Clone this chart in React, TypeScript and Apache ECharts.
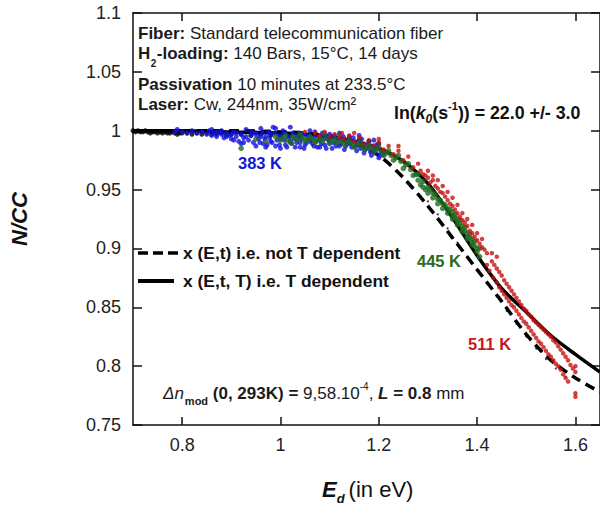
import React, { useEffect, useRef } from "react";
import * as echarts from "echarts";

// ---------- data ----------
const xTicks = [0.8, 1.0, 1.2, 1.4, 1.6];

// model curves (E_d in eV -> N/CC)
const modelE = [0.7, 0.8, 0.9, 1.0, 1.05, 1.1, 1.15, 1.2, 1.25, 1.3, 1.35, 1.4, 1.45, 1.5, 1.55, 1.6, 1.65];
const solidTdep = [1.0, 1.0, 0.999, 0.998, 0.997, 0.995, 0.991, 0.985, 0.974, 0.955, 0.926, 0.894, 0.866, 0.846, 0.826, 0.81, 0.795];
const dashedNotTdep = [1.0, 1.0, 1.0, 0.999, 0.998, 0.995, 0.989, 0.979, 0.96, 0.936, 0.909, 0.882, 0.855, 0.827, 0.805, 0.79, 0.778];

// measured points
const blackBand = [
  [0.7, 1.0], [0.705, 0.999], [0.71, 1.0], [0.715, 0.999], [0.72, 0.999], [0.725, 1.0], [0.73, 0.999], [0.735, 0.998],
  [0.74, 0.999], [0.745, 0.999], [0.75, 0.998], [0.755, 0.999], [0.76, 0.998], [0.765, 0.999], [0.77, 0.998], [0.775, 0.998],
  [0.78, 0.999], [0.785, 0.998], [0.79, 0.997], [0.795, 0.998], [0.8, 0.998], [0.81, 0.998], [0.82, 0.997], [0.83, 0.998],
  [0.84, 0.997], [0.85, 0.998], [0.86, 0.997], [0.87, 0.997], [0.88, 0.998], [0.89, 0.997], [0.9, 0.997], [0.92, 0.997],
  [0.94, 0.996], [0.96, 0.997], [0.98, 0.996], [1.0, 0.996], [1.02, 0.996], [1.04, 0.995], [1.06, 0.995], [1.08, 0.995],
  [1.1, 0.994], [1.12, 0.994], [1.14, 0.993], [1.16, 0.992], [1.18, 0.991], [1.2, 0.989],
];

const blue383 = [
  [0.785, 0.999], [0.79, 1.001], [0.8, 0.999], [0.81, 0.998], [0.82, 1.0], [0.83, 0.998], [0.84, 0.999], [0.85, 0.997],
  [0.855, 1.0], [0.86, 0.996], [0.865, 0.998], [0.87, 0.995], [0.875, 0.999], [0.88, 0.997], [0.885, 0.994], [0.89, 0.998],
  [0.895, 0.996], [0.9, 0.993], [0.905, 0.999], [0.91, 0.995], [0.915, 0.991], [0.92, 0.997], [0.925, 0.994], [0.93, 1.001],
  [0.935, 0.992], [0.94, 0.996], [0.945, 0.99], [0.95, 0.998], [0.955, 0.993], [0.96, 1.002], [0.965, 0.989], [0.97, 0.995],
  [0.975, 0.999], [0.98, 0.991], [0.985, 1.003], [0.99, 0.987], [0.995, 0.996], [1.0, 0.993], [1.005, 1.0], [1.01, 0.988],
  [1.015, 0.995], [1.02, 0.991], [1.025, 0.998], [1.03, 0.986], [1.035, 0.994], [1.04, 0.99], [1.045, 0.997], [1.05, 0.988],
  [1.055, 0.993], [1.06, 1.0], [1.065, 0.989], [1.07, 0.995], [1.075, 0.986], [1.08, 0.992], [1.085, 0.998], [1.09, 0.988],
  [1.095, 0.994], [1.1, 0.99], [1.105, 0.985], [1.11, 0.996], [1.115, 0.991], [1.12, 0.987], [1.125, 0.993], [1.13, 0.984],
  [1.135, 0.99], [1.14, 0.995], [1.145, 0.986], [1.15, 0.991], [1.155, 0.983], [1.16, 0.988], [1.165, 0.993], [1.17, 0.981],
  [1.175, 0.987], [1.18, 0.991], [1.185, 0.979], [1.19, 0.984], [1.195, 0.988], [1.2, 0.977], [1.205, 0.982], [1.21, 0.98],
  [0.86, 1.001], [0.88, 1.0], [0.9, 0.997], [0.92, 0.989], [0.94, 0.999], [0.95, 0.987], [0.96, 0.995], [0.97, 0.986],
  [0.98, 0.997], [0.99, 1.002], [1.0, 0.985], [1.01, 0.998], [1.02, 1.003], [1.03, 0.996], [1.04, 0.986], [1.05, 0.996],
  [1.06, 0.991], [1.07, 0.999], [1.08, 0.986], [1.09, 0.996], [1.1, 0.997], [1.12, 0.998], [1.14, 0.989], [1.16, 0.996],
  [1.18, 0.985], [1.19, 0.992],
  [0.952, 0.996], [0.958, 0.99], [0.963, 0.998], [0.968, 0.993], [0.973, 0.988], [0.978, 0.994], [0.983, 0.99], [0.988, 0.998],
  [0.993, 0.992], [0.998, 0.988], [1.003, 0.996], [1.008, 0.992], [1.013, 0.986], [1.018, 0.994], [1.023, 0.989], [1.028, 0.993],
  [1.033, 0.99], [1.038, 0.998], [1.043, 0.993], [1.048, 0.985], [1.053, 0.99], [1.058, 0.996], [1.063, 0.993], [1.068, 0.987],
  [1.073, 0.991], [1.078, 0.995], [1.083, 0.989], [1.088, 0.993], [1.093, 0.985], [1.098, 0.992], [1.103, 0.995], [1.108, 0.99],
  [1.113, 0.987], [1.118, 0.993], [1.123, 0.989], [1.128, 0.995], [1.133, 0.987], [1.138, 0.992], [1.143, 0.99], [1.148, 0.994],
  [1.153, 0.987], [1.158, 0.991], [1.163, 0.985], [1.168, 0.989], [1.173, 0.984], [1.178, 0.988], [1.183, 0.982], [1.188, 0.987],
  [1.193, 0.981], [1.198, 0.985], [1.203, 0.979], [1.208, 0.983], [0.87, 0.999], [0.89, 0.995], [0.91, 0.998], [0.93, 0.995],
  [0.945, 0.998], [0.925, 0.99], [0.905, 0.992],
];

const green445 = [
  [0.92, 0.985], [0.95, 0.993], [0.97, 0.991], [0.99, 0.995], [1.0, 0.992], [1.01, 0.996], [1.02, 0.99], [1.03, 0.994],
  [1.04, 0.997], [1.05, 0.991], [1.06, 0.995], [1.07, 0.99], [1.08, 0.994], [1.09, 0.997], [1.1, 0.989], [1.11, 0.993],
  [1.12, 0.996], [1.13, 0.988], [1.14, 0.992], [1.15, 0.986], [1.16, 0.99], [1.17, 0.984], [1.18, 0.988], [1.19, 0.982],
  [1.2, 0.986], [1.21, 0.979], [1.22, 0.983], [1.23, 0.975], [1.24, 0.979], [1.25, 0.968], [1.26, 0.972], [1.27, 0.962],
  [1.28, 0.958], [1.285, 0.954], [1.29, 0.957], [1.295, 0.95], [1.3, 0.947], [1.305, 0.95], [1.31, 0.943], [1.315, 0.946],
  [1.32, 0.938], [1.325, 0.941], [1.33, 0.934], [1.335, 0.937], [1.34, 0.93], [1.345, 0.933], [1.35, 0.925], [1.355, 0.929],
  [1.36, 0.92], [1.365, 0.924], [1.37, 0.914], [1.375, 0.918], [1.38, 0.908], [1.385, 0.912], [1.39, 0.903], [1.395, 0.906],
  [1.4, 0.897], [1.405, 0.9], [1.405, 0.893], [1.36, 0.925], [1.37, 0.919], [1.38, 0.913], [1.39, 0.908], [1.35, 0.931],
  [1.005, 0.994], [1.015, 0.992], [1.025, 0.995], [1.035, 0.992], [1.045, 0.994], [1.055, 0.992], [1.065, 0.993], [1.075, 0.992],
  [1.085, 0.991], [1.095, 0.993], [1.105, 0.991], [1.115, 0.99], [1.125, 0.991], [1.135, 0.99], [1.145, 0.989], [1.155, 0.988],
  [1.165, 0.987], [1.175, 0.986], [1.185, 0.985], [1.195, 0.984], [1.205, 0.982], [1.215, 0.981], [1.225, 0.979], [1.235, 0.977],
  [1.245, 0.974], [1.255, 0.971], [1.265, 0.967], [1.275, 0.963], [1.28, 0.963], [1.29, 0.952], [1.3, 0.952], [1.31, 0.947],
  [1.32, 0.942], [1.33, 0.938], [1.34, 0.934], [1.35, 0.928], [1.36, 0.923], [1.37, 0.916], [1.38, 0.91], [1.39, 0.905],
  [1.4, 0.9], [1.395, 0.902], [1.385, 0.909], [1.375, 0.915], [1.365, 0.921], [1.355, 0.926],
];

const red511 = [
  [1.05, 0.999], [1.07, 0.998], [1.08, 0.996], [1.09, 0.999], [1.1, 0.995], [1.11, 0.997], [1.12, 0.994], [1.125, 0.998],
  [1.13, 0.993], [1.14, 0.996], [1.15, 0.991], [1.16, 0.994], [1.17, 0.989], [1.18, 0.992], [1.19, 0.987], [1.2, 0.99],
  [1.21, 0.984], [1.22, 0.987], [1.23, 0.98], [1.24, 0.983], [1.25, 0.975], [1.26, 0.978], [1.27, 0.969], [1.28, 0.972],
  [1.29, 0.963], [1.3, 0.96], [1.305, 0.956], [1.31, 0.958], [1.32, 0.951], [1.325, 0.948], [1.33, 0.947], [1.34, 0.941],
  [1.345, 0.938], [1.35, 0.936], [1.36, 0.93], [1.365, 0.927], [1.37, 0.924], [1.38, 0.919], [1.385, 0.915], [1.39, 0.913],
  [1.4, 0.907], [1.405, 0.904], [1.41, 0.901], [1.42, 0.896],
  [1.3, 0.966], [1.32, 0.958], [1.34, 0.948], [1.36, 0.937], [1.38, 0.925], [1.4, 0.913], [1.43, 0.896],
  [1.285, 0.966], [1.295, 0.962], [1.315, 0.953], [1.335, 0.944], [1.355, 0.933], [1.375, 0.922], [1.395, 0.91], [1.415, 0.899],
  [1.31, 0.962], [1.33, 0.953], [1.35, 0.943], [1.37, 0.93], [1.39, 0.92], [1.41, 0.908], [1.44, 0.893], [1.2, 0.993],
  [1.24, 0.987], [1.15, 0.998],
  // upper branch
  [1.43, 0.889], [1.44, 0.883], [1.45, 0.877], [1.46, 0.87], [1.47, 0.864], [1.48, 0.858], [1.49, 0.852], [1.5, 0.847],
  [1.51, 0.842], [1.52, 0.837], [1.53, 0.833], [1.54, 0.829], [1.55, 0.825], [1.56, 0.82], [1.565, 0.817], [1.57, 0.814],
  [1.575, 0.811], [1.58, 0.808], [1.585, 0.805], [1.59, 0.801], [1.595, 0.798], [1.6, 0.795], [1.6, 0.8],
  [1.435, 0.886], [1.445, 0.88], [1.455, 0.873], [1.465, 0.867], [1.475, 0.861], [1.485, 0.855], [1.495, 0.849], [1.505, 0.844],
  [1.515, 0.839], [1.525, 0.835], [1.535, 0.831], [1.545, 0.827], [1.555, 0.822],
  // lower branch
  [1.42, 0.886], [1.425, 0.881], [1.433, 0.875], [1.44, 0.871], [1.45, 0.864], [1.46, 0.858], [1.47, 0.852], [1.48, 0.847],
  [1.49, 0.841], [1.5, 0.836], [1.51, 0.83], [1.52, 0.824], [1.53, 0.819], [1.54, 0.813], [1.55, 0.808], [1.56, 0.802],
  [1.57, 0.797], [1.575, 0.793], [1.58, 0.79], [1.585, 0.787], [1.6, 0.777], [1.6, 0.774],
  [1.445, 0.867], [1.455, 0.861], [1.465, 0.855], [1.475, 0.85], [1.485, 0.844], [1.495, 0.838], [1.505, 0.833], [1.515, 0.827],
  [1.525, 0.821], [1.535, 0.816], [1.545, 0.81], [1.555, 0.805], [1.565, 0.8],
];

const blackThin = [
  [1.3, 0.94], [1.32, 0.929], [1.34, 0.917], [1.36, 0.905], [1.38, 0.893], [1.4, 0.882], [1.42, 0.87], [1.44, 0.859],
  [1.46, 0.847], [1.48, 0.836], [1.5, 0.825], [1.52, 0.815], [1.54, 0.806], [1.56, 0.798], [1.58, 0.791],
];

const FONT = "Liberation Sans";

type Seg = { t: string; b?: boolean; i?: boolean; s?: number; dy?: number; dx?: number; adv?: boolean };

function textRun(x: number, y: number, segs: Seg[], base: number, color: string): any[] {
  const ctx = document.createElement("canvas").getContext("2d") as CanvasRenderingContext2D;
  let cx = x;
  const out: any[] = [];
  for (const sg of segs) {
    const size = sg.s ?? base;
    const fstyle = sg.i ? "italic" : "normal";
    const fweight = sg.b ? "bold" : "normal";
    ctx.font = `${fstyle} ${fweight} ${size}px "${FONT}"`;
    cx += sg.dx ?? 0;
    const full = ctx.measureText(sg.t).width;
    const trimmed = sg.t.trimStart();
    const lead = ctx.measureText(sg.t.slice(0, sg.t.length - trimmed.length)).width;
    out.push({
      type: "text",
      x: cx + lead,
      y: y + (sg.dy ?? 0),
      silent: true,
      style: {
        text: trimmed.trimEnd(),
        fontSize: size,
        fontStyle: fstyle,
        fontWeight: fweight,
        fontFamily: FONT,
        fill: color,
        align: "left",
        verticalAlign: "middle",
        textAlign: "left",
        textVerticalAlign: "middle",
      },
    });
    if (sg.adv !== false) cx += full;
  }
  return out;
}

export default function App() {
  const ref = useRef<HTMLDivElement>(null);
  useEffect(() => {
    if (!ref.current) return;
    const chart = echarts.init(ref.current, null, { renderer: "svg" });
    const ink = "#111";
    const fmt = (v: number) => String(Math.round(v * 100) / 100);
    const annot = 17;
    const graphics: any[] = [
      ...textRun(138, 33, [{ t: "Fiber:", b: true }, { t: " Standard telecommunication fiber" }], annot, "#1a1a1a"),
      ...textRun(138, 53, [
        { t: "H", b: true },
        { t: "2", b: true, s: 10, dy: 10, dx: 0.5 },
        { t: "-loading:", b: true, dx: 0.5 },
        { t: " 140 Bars, 15°C, 14 days" },
      ], annot, "#1a1a1a"),
      ...textRun(138, 84, [{ t: "Passivation", b: true }, { t: " 10 minutes at 233.5°C" }], annot, "#1a1a1a"),
      ...textRun(138, 104, [{ t: "Laser:", b: true }, { t: " Cw, 244nm, 35W/cm²" }], annot, "#1a1a1a"),
      ...textRun(394, 113, [
        { t: "ln(", b: true },
        { t: "k", b: true, i: true },
        { t: "0", b: true, i: true, s: 12, dy: 6 },
        { t: "(s", b: true },
        { t: "-1", b: true, s: 11, dy: -7 },
        { t: ")) = 22.0 +/- 3.0", b: true },
      ], 17.8, "#111"),
      ...textRun(238, 162.5, [{ t: "383 K", b: true }], 16.5, "#1515d6"),
      ...textRun(417, 261, [{ t: "445 K", b: true }], 16.5, "#2a6a22"),
      ...textRun(468, 344, [{ t: "511 K", b: true }], 16.5, "#c8171d"),
      ...textRun(183, 253, [{ t: "x (E,t) i.e. not T dependent", b: true }], 17.4, "#111"),
      ...textRun(183, 281, [{ t: "x (E,t, T) i.e. T dependent", b: true }], 17.4, "#111"),
      ...textRun(163, 393, [
        { t: "Δn", i: true },
        { t: "mod", b: true, s: 11, dy: 8, dx: 1 },
        { t: " (0, 293K) =", b: true },
        { t: " 9,58.10" },
        { t: "-4", s: 10, dy: -7 },
        { t: ", " },
        { t: "L", b: true, i: true },
        { t: " = 0.8", b: true },
        { t: " mm" },
      ], annot, "#1a1a1a"),
      ...textRun(322, 489.5, [
        { t: "E", b: true, i: true, s: 22 },
        { t: "d", b: true, i: true, s: 13, dy: 9 },
        { t: "(in eV)", s: 22, dx: 4 },
      ], 22, "#111"),
      {
        type: "line",
        silent: true,
        shape: { x1: 138, y1: 253, x2: 180, y2: 253 },
        style: { stroke: "#000", lineWidth: 3.5, lineDash: [10, 5] },
      },
      {
        type: "line",
        silent: true,
        shape: { x1: 138, y1: 281, x2: 174, y2: 281 },
        style: { stroke: "#000", lineWidth: 4 },
      },
    ];

    const tickStyle = { color: ink, width: 1.5 };
    const option: any = {
      animation: false,
      backgroundColor: "#fff",
      grid: { left: 127, right: -7, top: 13, bottom: 81, containLabel: false },
      xAxis: [
        {
          type: "value",
          position: "bottom",
          min: 0.7,
          max: 1.65,
          axisLine: { show: true, onZero: false, lineStyle: tickStyle },
          axisTick: { show: true, inside: true, length: 8, customValues: xTicks, lineStyle: tickStyle },
          axisLabel: {
            customValues: xTicks,
            formatter: fmt,
            fontSize: 18,
            fontFamily: FONT,
            color: "#222",
            margin: 11,
          },
          splitLine: { show: false },
        },
        {
          type: "value",
          position: "top",
          min: 0.7,
          max: 1.65,
          axisLine: { show: true, onZero: false, lineStyle: tickStyle },
          axisTick: { show: true, inside: true, length: 8, customValues: xTicks, lineStyle: tickStyle },
          axisLabel: { show: false },
          splitLine: { show: false },
        },
      ],
      yAxis: [
        {
          type: "value",
          position: "left",
          min: 0.75,
          max: 1.1,
          interval: 0.05,
          name: "N/CC",
          nameLocation: "middle",
          nameGap: 103,
          nameRotate: 90,
          nameTextStyle: { fontSize: 22, fontWeight: "bold", fontStyle: "italic", fontFamily: FONT, color: "#111" },
          axisLine: { show: true, onZero: false, lineStyle: tickStyle },
          axisTick: { show: true, inside: true, length: 9, lineStyle: tickStyle },
          axisLabel: { formatter: fmt, fontSize: 18, fontFamily: FONT, color: "#222", margin: 12 },
          splitLine: { show: false },
        },
        {
          type: "value",
          position: "right",
          min: 0.75,
          max: 1.1,
          interval: 0.05,
          axisLine: { show: true, onZero: false, lineStyle: tickStyle },
          axisTick: { show: true, inside: true, length: 9, lineStyle: tickStyle },
          axisLabel: { show: false },
          splitLine: { show: false },
        },
      ],
      series: [
        {
          type: "line",
          name: "x (E,t) i.e. not T dependent",
          data: modelE.map((e, k) => [e, dashedNotTdep[k]]),
          showSymbol: false,
          smooth: 0.3,
          lineStyle: { color: "#000", width: 3.5, type: [10, 6] },
          z: 2,
        },
        {
          type: "line",
          name: "x (E,t, T) i.e. T dependent",
          data: modelE.map((e, k) => [e, solidTdep[k]]),
          showSymbol: false,
          smooth: 0.3,
          lineStyle: { color: "#000", width: 3.5 },
          z: 2,
        },
        { type: "scatter", name: "black", data: blackBand, symbolSize: 5, itemStyle: { color: "#000" }, z: 3 },
        { type: "scatter", name: "black thin", data: blackThin, symbolSize: 2, itemStyle: { color: "#000" }, z: 3 },
        { type: "scatter", name: "383 K", data: blue383, symbolSize: 5, itemStyle: { color: "#1010e0" }, z: 4 },
        { type: "scatter", name: "445 K", data: green445, symbolSize: 5.5, itemStyle: { color: "#1f6b1f" }, z: 4 },
        { type: "scatter", name: "511 K", data: red511, symbolSize: 4.5, itemStyle: { color: "#c81010" }, z: 4 },
      ],
      graphic: { elements: graphics },
    };
    chart.setOption(option);
    return () => chart.dispose();
  }, []);
  return (
    <div
      ref={ref}
      style={{ position: "absolute", left: 0, top: 0, width: 600, height: 506, background: "#fff", overflow: "hidden" }}
    />
  );
}
